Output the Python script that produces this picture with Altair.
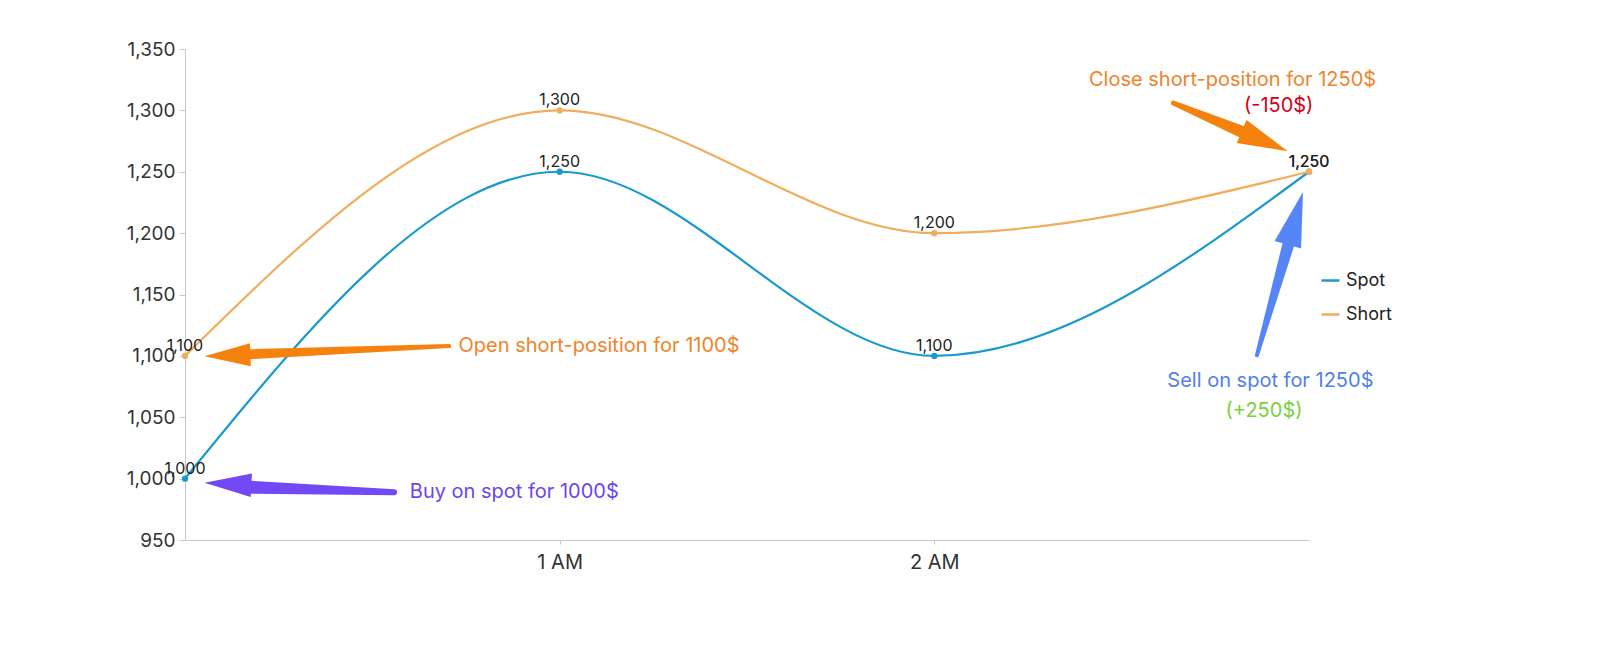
import altair as alt
import pandas as pd

# ---- data ----
hours = [0, 1, 2, 3]
hour_labels = ["", "1 AM", "2 AM", ""]
spot = [1000, 1250, 1100, 1250]
short = [1100, 1300, 1200, 1250]
series_names = ["Spot", "Short"]
series_colors = ["#1a9bcb", "#f0ad5b"]
y_ticks = [950, 1000, 1050, 1100, 1150, 1200, 1250, 1300, 1350]

# annotations (data coordinates)
note_text = ["Open short-position for 1100$", "Buy on spot for 1000$",
             "Close short-position for 1250$", "(-150$)",
             "Sell on spot for 1250$", "(+250$)"]
note_x = [0.73, 0.60, 2.796, 2.919, 2.897, 2.880]
note_y = [1108, 989, 1325, 1303.4, 1079.7, 1054.8]
note_color = ["#f0842a", "#6b46ec", "#f0842a", "#d0021b", "#4f80ea", "#77d13a"]
note_align = ["left", "left", "center", "center", "center", "center"]

arrow_ids = ["open", "buy", "close", "sell"]
arrow_tail_x = [0.705, 0.558, 2.638, 2.861]
arrow_tail_y = [1108, 989, 1306, 1100.5]
arrow_base_x = [0.174, 0.174, 2.823, 2.946]
arrow_base_y = [1101.4, 993, 1282.3, 1191.9]
arrow_tip_x = [0.052, 0.052, 2.943, 2.984]
arrow_tip_y = [1099.7, 996.6, 1266.8, 1233.6]
arrow_angle = [268, 273, 113, 16]
arrow_color = ["#f5820f", "#7249f5", "#f5820f", "#5585f7"]
arrow_tail_w = [4, 6, 5, 4]
arrow_base_w = [10, 13, 12, 12]
arrow_head_size = [2116, 2200, 2500, 3025]

# ---- tables (all layers share the field names hour / value) ----
rows = []
for name, vals in zip(series_names, [spot, short]):
    for h, v in zip(hours, vals):
        rows.append({"hour": h, "value": v, "series": name})
df = pd.DataFrame(rows)

notes = pd.DataFrame({"text": note_text, "hour": note_x, "value": note_y,
                      "color": note_color, "align": note_align})

shaft_rows = []
for i, a in enumerate(arrow_ids):
    shaft_rows.append({"id": a, "o": 0, "hour": arrow_tail_x[i], "value": arrow_tail_y[i],
                       "w": arrow_tail_w[i], "color": arrow_color[i]})
    shaft_rows.append({"id": a, "o": 1, "hour": arrow_base_x[i], "value": arrow_base_y[i],
                       "w": arrow_base_w[i], "color": arrow_color[i]})
shafts = pd.DataFrame(shaft_rows)
heads = pd.DataFrame({"id": arrow_ids, "hour": arrow_tip_x, "value": arrow_tip_y,
                      "angle": arrow_angle, "color": arrow_color,
                      "size": arrow_head_size})

label_expr = " : ".join(
    f"datum.value == {h} ? '{l}'" for h, l in zip(hours, hour_labels)
) + " : ''"

FONT = "Inter"

x_scale = alt.Scale(domain=[0, 3], nice=False, zero=False)
y_scale = alt.Scale(domain=[950, 1350], nice=False, zero=False)

x_enc = alt.X("hour:Q", scale=x_scale,
              axis=alt.Axis(values=[1, 2], labelExpr=label_expr, title=None,
                            grid=False, domainColor="#c8c8c8", tickColor="#c8c8c8",
                            tickSize=4, labelPadding=8, labelFontSize=20,
                            labelColor="#333333", labelFont=FONT))
y_enc = alt.Y("value:Q", scale=y_scale,
              axis=alt.Axis(values=y_ticks, labelExpr="format(datum.value, ',')",
                            title=None, grid=False,
                            domainColor="#c8c8c8", tickColor="#c8c8c8",
                            tickSize=6, labelPadding=4, labelFontSize=19,
                            labelColor="#333333", labelFont=FONT,
                            minExtent=62, maxExtent=62))

color_enc = alt.Color("series:N",
                      scale=alt.Scale(domain=series_names, range=series_colors),
                      legend=alt.Legend(title=None, orient="none", legendX=1135,
                                        legendY=221, symbolType="stroke",
                                        symbolStrokeWidth=2.5, symbolSize=324,
                                        labelFontSize=18, labelFont=FONT,
                                        labelColor="#222222", rowPadding=14,
                                        labelOffset=5))

base = alt.Chart(df)
lines = base.mark_line(interpolate="monotone", strokeWidth=2.2).encode(
    x=x_enc, y=y_enc, color=color_enc)
points = base.mark_point(filled=True, size=40, opacity=1).encode(
    x=x_enc, y=y_enc,
    color=alt.Color("series:N",
                    scale=alt.Scale(domain=series_names, range=series_colors),
                    legend=None))
labels = base.mark_text(dy=-10, fontSize=16, color="#222222", font=FONT).encode(
    x=x_enc, y=y_enc, text=alt.Text("value:Q", format=","))

shaft_layer = alt.Chart(shafts).mark_trail().encode(
    x=x_enc, y=y_enc, detail="id:N", order="o:Q",
    size=alt.Size("w:Q", scale=None, legend=None),
    color=alt.Color("color:N", scale=None, legend=None))
head_layer = alt.Chart(heads).mark_point(
    shape="M0,0L0.5,2L-0.5,2Z", filled=True, opacity=1).encode(
    x=x_enc, y=y_enc,
    angle=alt.Angle("angle:Q", scale=None),
    size=alt.Size("size:Q", scale=None, legend=None),
    color=alt.Color("color:N", scale=None, legend=None))

notes_left = alt.Chart(notes).transform_filter("datum.align == 'left'").mark_text(
    align="left", baseline="middle", fontSize=20, font=FONT).encode(
    x=x_enc, y=y_enc, text="text:N",
    color=alt.Color("color:N", scale=None, legend=None))
notes_center = alt.Chart(notes).transform_filter("datum.align == 'center'").mark_text(
    align="center", baseline="middle", fontSize=20, font=FONT).encode(
    x=x_enc, y=y_enc, text="text:N",
    color=alt.Color("color:N", scale=None, legend=None))

chart = alt.layer(
    lines, points, labels, shaft_layer, head_layer, notes_left, notes_center
).properties(
    width=1124, height=491,
    padding={"left": 115, "top": 32, "right": 10, "bottom": 10},
    background="white",
).configure(font=FONT).configure_view(stroke=None)

chart.save("out.html", embed_options={"renderer": "svg", "actions": False})
